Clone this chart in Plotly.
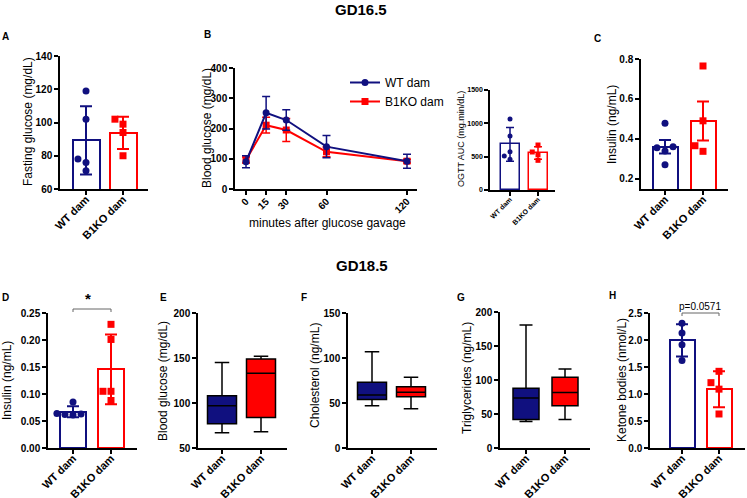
import statistics as st
import plotly.graph_objects as go

W, H = 747, 498
NAVY = "#10107f"
RED = "#ff0000"
FONT = "Liberation Sans, Arial, sans-serif"

categories = ["WT dam", "B1KO dam"]

# ---------------- data ----------------
# A: fasting glucose GD16.5 (mg/dL), mean +/- SD
fasting_wt = [119, 102, 78, 76, 71]
fasting_ko = [102, 99, 94, 80]

# B: OGTT time course (mg/dL)
ogtt_minutes = [0, 15, 30, 60, 120]
ogtt_wt_mean = [90, 252, 228, 140, 92]
ogtt_wt_err = [20, 54, 34, 37, 23]
ogtt_ko_mean = [96, 211, 195, 123, 92]
ogtt_ko_err = [10, 26, 38, 16, 6]

# B inset: OGTT AUC (mg.min/dL), mean +/- SD
auc_wt = [1065, 810, 575, 510, 460]
auc_ko = [675, 570, 530, 445]

# C: insulin GD16.5 (ng/mL), mean +/- SEM
ins16_wt = [0.478, 0.355, 0.360, 0.338, 0.270]
ins16_ko = [0.765, 0.490, 0.365, 0.337]

# D: insulin GD18.5 (ng/mL), mean +/- SD
ins18_wt = [0.085, 0.063, 0.062, 0.064, 0.061]
ins18_ko = [0.229, 0.201, 0.105, 0.105, 0.088]

# E-G box plots: [min, q1, median, q3, max]
glucose18_wt = [67, 77, 97, 108, 145]
glucose18_ko = [68, 84, 133, 149, 152]
chol_wt = [47, 54, 59, 73, 107]
chol_ko = [43.5, 57, 62, 68, 78.5]
trig_wt = [38.8, 42, 73.7, 88, 181]
trig_ko = [42, 62, 81.6, 104, 116]

# H: ketone bodies (nmol/L), mean +/- SD
ketone_wt = [2.31, 2.13, 1.91, 1.62]
ketone_ko = [1.42, 1.21, 1.09, 0.63]

# ---------------- helpers ----------------
fig = go.Figure()
_axn = [0]


def px2paper(x, y):
    return x / W, 1 - y / H


def make_axes(g, yticks, ytickformat=None, tickfont=10, catfont=11,
              xtickvals=None, xticktext=None, xrange=None, standoff=-6):
    _axn[0] += 1
    n = _axn[0]
    sfx = "" if n == 1 else str(n)
    if xrange is None:
        unit = g["c1"] - g["c0"]
        xrange = [(g["L"] - g["c0"]) / unit, (g["R"] - g["c0"]) / unit]
    if xtickvals is None:
        xtickvals = [0, 1]
        xticktext = categories
    common = dict(showline=True, linecolor="black", linewidth=1.5,
                  ticks="outside", ticklen=4, tickwidth=1.5, tickcolor="black",
                  showgrid=False, zeroline=False, fixedrange=True, automargin=False)
    xa = dict(domain=[g["L"] / W, g["R"] / W], range=xrange, anchor="y" + sfx,
              tickvals=xtickvals, ticktext=xticktext, tickangle=-45,
              ticklabelstandoff=standoff,
              tickfont=dict(family=FONT, size=catfont, color="black", weight="bold"),
              **common)
    ya = dict(domain=[1 - g["B"] / H, 1 - g["T"] / H], range=g["yr"], anchor="x" + sfx,
              tickvals=yticks, tickformat=ytickformat,
              tickfont=dict(family=FONT, size=tickfont, color="black", weight="bold"),
              **common)
    fig.update_layout(**{"xaxis" + sfx: xa, "yaxis" + sfx: ya})
    g["xrange"] = xrange
    return "x" + sfx, "y" + sfx


def swarm(values, g, msize):
    unit_x = g["c1"] - g["c0"]
    unit_y = (g["B"] - g["T"]) / (g["yr"][1] - g["yr"][0])
    order = sorted(range(len(values)), key=lambda i: values[i])
    placed, res = [], [0.0] * len(values)
    thr = msize * 1.05
    step = msize * 1.15
    for i in order:
        y = values[i] * unit_y
        x = 0
        for k in [0, -1, 1, -2, 2]:
            x = k * step
            if all(abs(x - px) >= thr or abs(y - py) >= thr for px, py in placed):
                break
        placed.append((x, y))
        res[i] = x / unit_x
    return res


def bar_panel(g, xa, ya, groups, err="sd", msize=7, lw=2, capw=6):
    unit = g["c1"] - g["c0"]
    for i, (vals, color, sym) in enumerate(groups):
        m = st.mean(vals)
        e = st.stdev(vals)
        if err == "sem":
            e = e / len(vals) ** 0.5
        fig.add_trace(go.Bar(
            x=[i], y=[m], width=g["bw"] / unit, xaxis=xa, yaxis=ya, showlegend=False,
            marker=dict(color="white", line=dict(color=color, width=lw)),
            error_y=dict(type="data", array=[e], color=color, thickness=lw, width=capw)))
        offs = swarm(vals, g, msize)
        fig.add_trace(go.Scatter(
            x=[i + o for o in offs], y=vals, mode="markers", xaxis=xa, yaxis=ya,
            showlegend=False, cliponaxis=False,
            marker=dict(color=color, symbol=sym, size=msize, line=dict(width=0))))


def box_panel(g, xa, ya, groups):
    unit = g["c1"] - g["c0"]
    for i, (s, color) in enumerate(groups):
        fig.add_trace(go.Box(
            x=[i], lowerfence=[s[0]], q1=[s[1]], median=[s[2]], q3=[s[3]],
            upperfence=[s[4]], width=g["bw"] / unit, fillcolor=color,
            line=dict(color="black", width=1.5), whiskerwidth=0.5,
            boxpoints=False, xaxis=xa, yaxis=ya, showlegend=False))


annotations = []
shapes = []


def text(x, y, s, size=10, bold=False, angle=0, xanchor="center"):
    px, py = px2paper(x, y)
    annotations.append(dict(
        x=px, y=py, xref="paper", yref="paper", text=s, showarrow=False,
        textangle=angle, xanchor=xanchor, yanchor="middle",
        font=dict(family=FONT, size=size, color="black", weight="bold" if bold else "normal")))


def bracket(xa, ya, g, y_dom_px, drop=3):
    x0r, x1r = g["xrange"]
    d0 = (0 - x0r) / (x1r - x0r)
    d1 = (1 - x0r) / (x1r - x0r)
    span = g["B"] - g["T"]
    ytop = (g["B"] - y_dom_px) / span
    ybot = (g["B"] - y_dom_px - drop) / span
    shapes.append(dict(
        type="path", xref=xa + " domain", yref=ya + " domain",
        path=f"M {d0} {ybot} L {d0} {ytop} L {d1} {ytop} L {d1} {ybot}",
        line=dict(color="#666666", width=1)))


# ---------------- panel A ----------------
gA = dict(L=60, R=148, T=56, B=189, c0=86, c1=123, bw=27, yr=[60, 140])
xa, ya = make_axes(gA, [60, 80, 100, 120, 140])
bar_panel(gA, xa, ya, [(fasting_wt, NAVY, "circle"), (fasting_ko, RED, "square")])

# ---------------- panel B ----------------
gB = dict(L=235, R=417, T=68, B=189, yr=[0, 400])
scaleB = (407 - 246) / 120
xrB = [-(246 - 235) / scaleB, 120 + (417 - 407) / scaleB]
xaB, yaB = make_axes(gB, [0, 100, 200, 300, 400], xtickvals=ogtt_minutes,
                     xticktext=[str(v) for v in ogtt_minutes], xrange=xrB,
                     catfont=10, standoff=-3)
fig.add_trace(go.Scatter(
    x=ogtt_minutes, y=ogtt_ko_mean, mode="lines+markers", name="B1KO dam",
    xaxis=xaB, yaxis=yaB, legendrank=2,
    line=dict(color=RED, width=2), marker=dict(color=RED, symbol="square", size=7),
    error_y=dict(type="data", array=ogtt_ko_err, color=RED, thickness=1.5, width=4)))
fig.add_trace(go.Scatter(
    x=ogtt_minutes, y=ogtt_wt_mean, mode="lines+markers", name="WT dam",
    xaxis=xaB, yaxis=yaB, legendrank=1,
    line=dict(color=NAVY, width=2), marker=dict(color=NAVY, symbol="circle", size=7),
    error_y=dict(type="data", array=ogtt_wt_err, color=NAVY, thickness=1.5, width=4)))

# ---------------- inset ----------------
gI = dict(L=490, R=555, T=90, B=190, c0=510, c1=538, bw=19, yr=[0, 1500])
xa, ya = make_axes(gI, [0, 500, 1000, 1500], tickfont=7, catfont=7, standoff=-3)
bar_panel(gI, xa, ya, [(auc_wt, NAVY, "circle"), (auc_ko, RED, "square")],
          msize=5, lw=1.5, capw=4)

# ---------------- panel C ----------------
gC = dict(L=641, R=728, T=59, B=189, c0=665, c1=703, bw=25, yr=[0.148, 0.8])
xa, ya = make_axes(gC, [0.2, 0.4, 0.6, 0.8], ytickformat=".1f")
bar_panel(gC, xa, ya, [(ins16_wt, NAVY, "circle"), (ins16_ko, RED, "square")], err="sem")

# ---------------- panel D ----------------
gD = dict(L=48, R=137, T=313, B=448, c0=73, c1=111, bw=26, yr=[0, 0.25])
xaD, yaD = make_axes(gD, [0, 0.05, 0.10, 0.15, 0.20, 0.25], ytickformat=".2f")
bar_panel(gD, xaD, yaD, [(ins18_wt, NAVY, "circle"), (ins18_ko, RED, "square")])
bracket(xaD, yaD, gD, 309)

# ---------------- panel E ----------------
gE = dict(L=198, R=287, T=313, B=448, c0=222, c1=261, bw=29, yr=[50, 200])
xa, ya = make_axes(gE, [50, 100, 150, 200])
box_panel(gE, xa, ya, [(glucose18_wt, NAVY), (glucose18_ko, RED)])

# ---------------- panel F ----------------
gF = dict(L=348, R=437, T=313, B=448, c0=372, c1=411, bw=29, yr=[0, 150])
xa, ya = make_axes(gF, [0, 50, 100, 150])
box_panel(gF, xa, ya, [(chol_wt, NAVY), (chol_ko, RED)])

# ---------------- panel G ----------------
gG = dict(L=500, R=590, T=312, B=448, c0=526, c1=565, bw=26, yr=[0, 200])
xa, ya = make_axes(gG, [0, 50, 100, 150, 200])
box_panel(gG, xa, ya, [(trig_wt, NAVY), (trig_ko, RED)])

# ---------------- panel H ----------------
gH = dict(L=650, R=745, T=313, B=448, c0=682, c1=719, bw=25, yr=[0, 2.5])
xaH, yaH = make_axes(gH, [0, 0.5, 1.0, 1.5, 2.0, 2.5], ytickformat=".1f")
bar_panel(gH, xaH, yaH, [(ketone_wt, NAVY, "circle"), (ketone_ko, RED, "square")])
bracket(xaH, yaH, gH, 313)

# ---------------- text ----------------
text(361, 9, "GD16.5", size=15, bold=True)
text(362, 265, "GD18.5", size=15, bold=True)
for lab, x, y in [("A", 6, 36), ("B", 207, 35), ("C", 597, 38), ("D", 5, 297),
                  ("E", 163, 297), ("F", 304, 297), ("G", 461, 297), ("H", 612, 295)]:
    text(x, y, lab, size=10, bold=True)

text(28, 122, "Fasting glucose (mg/dL)", size=12, angle=-90)
text(207, 128, "Blood glucose (mg/dL)", size=12, angle=-90)
text(461, 139, "OGTT AUC (mg.min/dL)", size=9, angle=-90)
text(612, 125, "Insulin (ng/mL)", size=12, angle=-90)
text(7, 381, "Insulin (ng/mL)", size=12, angle=-90)
text(163, 381, "Blood glucose (mg/dL)", size=12, angle=-90)
text(315, 376, "Cholesterol (ng/mL)", size=12, angle=-90)
text(467, 378, "Triglycerides (ng/mL)", size=12, angle=-90)
text(622, 380, "Ketone bodies (nmol/L)", size=12, angle=-90)
text(327, 223, "minutes after glucose gavage", size=12)
text(88, 298, "*", size=15, bold=True)
text(700, 306, "p=0.0571", size=10)

fig.update_layout(
    width=W, height=H, margin=dict(l=0, r=0, t=0, b=0, autoexpand=False),
    paper_bgcolor="white", plot_bgcolor="white",
    font=dict(family=FONT, color="black"),
    annotations=annotations, shapes=shapes, bargap=0,
    showlegend=True,
    legend=dict(x=345 / W, y=1 - 68 / H, xanchor="left", yanchor="top",
                bgcolor="rgba(0,0,0,0)", font=dict(family=FONT, size=12, color="black"),
                tracegroupgap=0, itemwidth=30),
)

fig.write_html("out.html", config={"displayModeBar": False},
               post_script="document.body.style.margin='0';document.body.style.overflow='hidden';")
